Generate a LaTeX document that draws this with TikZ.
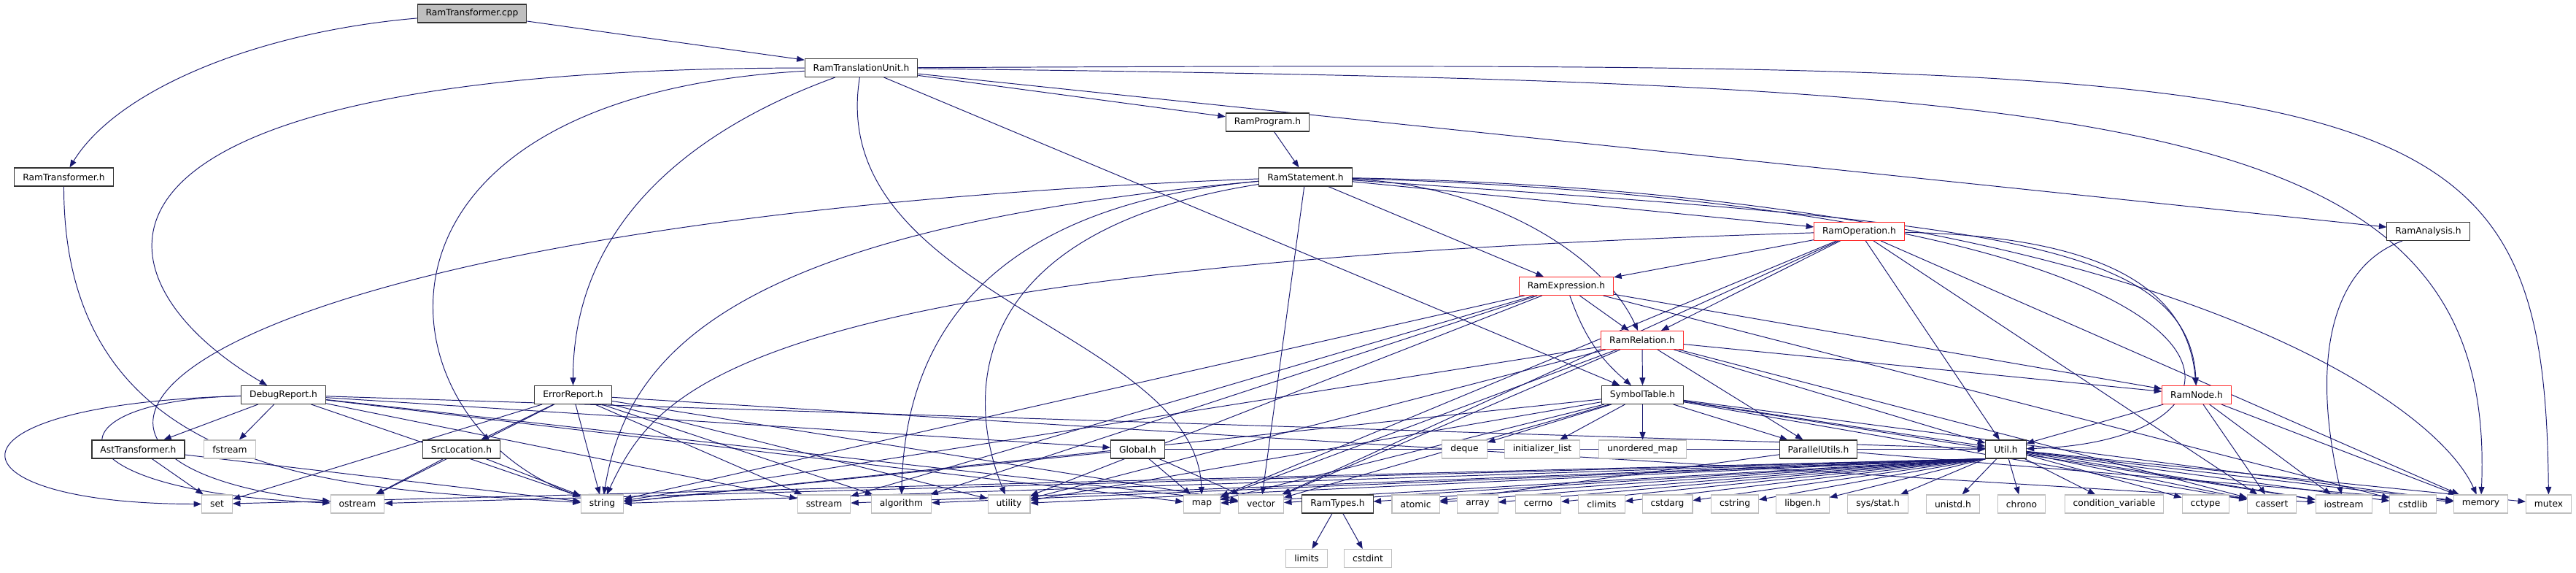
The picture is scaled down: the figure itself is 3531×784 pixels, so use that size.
\documentclass[tikz,border=0pt]{standalone}
\usepackage{fontspec}
\setmainfont{DejaVu Sans}
\usepackage{xcolor}
\usetikzlibrary{arrows.meta,backgrounds}
\definecolor{edgeblue}{RGB}{25,25,112}
\definecolor{stdgray}{RGB}{191,191,191}
\definecolor{filegray}{RGB}{191,191,191}
\definecolor{boxline}{RGB}{50,50,50}
\definecolor{truncred}{RGB}{255,40,40}

\tikzset{
  hdr/.style={draw=boxline, fill=white, line width=0.6pt, minimum height=0.5cm,
    inner xsep=0.23cm, inner ysep=0pt, font=\fontsize{7}{8}\selectfont},
  stdhdr/.style={hdr, draw=stdgray},
  redhdr/.style={hdr, draw=truncred},
  srcfile/.style={hdr, fill=filegray},
  dep/.style={draw=edgeblue, line width=0.55pt, -{Triangle[length=0.21cm,width=0.16cm]}}
}

\begin{document}
\begin{tikzpicture}[x=0.02cm,y=0.02cm]
\useasboundingbox (0,0) rectangle (3531,784);

% Project headers
\node[srcfile] (cpp) at (647,765.5) {RamTransformer.cpp};
\node[hdr] (rtu) at (1180.5,691) {RamTranslationUnit.h};
\node[hdr] (prog) at (1737.5,616.5) {RamProgram.h};
\node[hdr] (rth) at (87.5,541.5) {RamTransformer.h};
\node[hdr] (stmt) at (1789.5,541.5) {RamStatement.h};
\node[redhdr] (op) at (2548.5,467) {RamOperation.h};
\node[hdr] (ana) at (3328.5,467) {RamAnalysis.h};
\node[redhdr] (expr) at (2147,392) {RamExpression.h};
\node[redhdr] (rel) at (2251,318) {RamRelation.h};
\node[hdr] (dbg) at (388.5,243) {DebugReport.h};
\node[hdr] (err) at (785.5,243) {ErrorReport.h};
\node[hdr] (sym) at (2251.5,243) {SymbolTable.h};
\node[redhdr] (node) at (3011,243) {RamNode.h};
\node[hdr] (ast) at (189.5,168.5) {AstTransformer.h};
\node[stdhdr] (fstream) at (315,168.5) {fstream};
\node[hdr] (src) at (632.5,168.5) {SrcLocation.h};
\node[hdr] (glob) at (1559.5,168.5) {Global.h};
\node[stdhdr] (deque) at (2007.5,168.5) {deque};
\node[stdhdr] (initlist) at (2114,168.5) {initializer\_list};
\node[stdhdr] (unomap) at (2251.5,168.5) {unordered\_map};
\node[hdr] (par) at (2492.5,168.5) {ParallelUtils.h};
\node[hdr] (util) at (2749.5,168.5) {Util.h};

% Standard headers
\node[stdhdr] (set) at (297.5,93.5) {set};
\node[stdhdr] (ostream) at (490,93.5) {ostream};
\node[stdhdr] (string) at (825.5,93.5) {string};
\node[stdhdr] (sstream) at (1129.5,93.5) {sstream};
\node[stdhdr] (algorithm) at (1235.5,93.5) {algorithm};
\node[stdhdr] (utility) at (1383,93.5) {utility};
\node[stdhdr] (map) at (1647.5,93.5) {map};
\node[stdhdr] (vector) at (1728.5,93.5) {vector};
\node[hdr] (ramtypes) at (1833.5,93.5) {RamTypes.h};
\node[stdhdr] (atomic) at (1940.5,93.5) {atomic};
\node[stdhdr] (array) at (2025.5,93.5) {array};
\node[stdhdr] (cerrno) at (2108.5,93.5) {cerrno};
\node[stdhdr] (climits) at (2195.5,93.5) {climits};
\node[stdhdr] (cstdarg) at (2285.5,93.5) {cstdarg};
\node[stdhdr] (cstring) at (2378,93.5) {cstring};
\node[stdhdr] (libgen) at (2471,93.5) {libgen.h};
\node[stdhdr] (sysstat) at (2574,93.5) {sys/stat.h};
\node[stdhdr] (unistd) at (2677,93.5) {unistd.h};
\node[stdhdr] (chrono) at (2771,93.5) {chrono};
\node[stdhdr] (condvar) at (2898,93.5) {condition\_variable};
\node[stdhdr] (cctype) at (3023,93.5) {cctype};
\node[stdhdr] (cassert) at (3114,93.5) {cassert};
\node[stdhdr] (iostream) at (3212.5,93.5) {iostream};
\node[stdhdr] (cstdlib) at (3307.5,93.5) {cstdlib};
\node[stdhdr] (memory) at (3400.5,93.5) {memory};
\node[stdhdr] (mutex) at (3493.5,93.5) {mutex};
\node[stdhdr] (limits) at (1791,19) {limits};
\node[stdhdr] (cstdint) at (1875,19) {cstdint};

\begin{scope}[on background layer]
  % Curved includes
  \draw[dep] (cpp) .. controls (350,740) and (160,660) .. (rth);
  \draw[dep] (rtu) .. controls (40,690) and (120,400) .. (dbg);
  \draw[dep] (rtu) .. controls (450,650) and (520,200) .. (string);
  \draw[dep] (rtu) to[out=200,in=90] (err);
  \draw[dep] (rtu) .. controls (1130,380) and (1640,330) .. (map);
  \draw[dep] (rtu) .. controls (2900,670) and (3424,640) .. (memory);
  \draw[dep] (rtu) .. controls (3300,700) and (3487,700) .. (mutex);
  \draw[dep] (rth) .. controls (87,110) and (500,115) .. (string);
  \draw[dep] (stmt) .. controls (200,480) and (-60,150) .. (ostream);
  \draw[dep] (stmt) .. controls (1000,470) and (860,300) .. (string);
  \draw[dep] (stmt) .. controls (1330,500) and (1240,300) .. (algorithm);
  \draw[dep] (stmt) .. controls (1330,470) and (1320,250) .. (utility);
  \draw[dep] (stmt) .. controls (2050,530) and (2200,430) .. (rel);
  \draw[dep] (stmt) .. controls (2700,480) and (3000,460) .. (node);
  \draw[dep] (stmt) .. controls (3150,500) and (3150,180) .. (util);
  \draw[dep] (stmt) .. controls (2900,520) and (3330,250) .. (memory);
  \draw[dep] (op) .. controls (2900,460) and (3000,380) .. (node);
  \draw[dep] (op) .. controls (1000,420) and (900,250) .. (string);
  \draw[dep] (ana) .. controls (3200,420) and (3165,300) .. (iostream);
  \draw[dep] (expr) to[bend right=15] (sym);
  \draw[dep] (dbg) .. controls (-100,230) and (-80,93.5) .. (set);
  \draw[dep] (dbg) .. controls (60,235) and (60,110) .. (ostream);

  % Straight includes
  \foreach \a/\b in {cpp/rtu, rtu/prog, rtu/ana, rtu/sym, prog/stmt, stmt/op, stmt/expr, stmt/vector,
      op/expr, op/rel, op/util, op/cassert, op/memory, op/map, op/vector,
      expr/rel, expr/node, expr/string, expr/sstream, expr/algorithm, expr/utility, expr/cstdlib,
      rel/sym, rel/par, rel/node, rel/util, rel/string, rel/utility, rel/map, rel/vector, rel/cassert,
      dbg/ast, dbg/fstream, dbg/glob, dbg/string, dbg/sstream, dbg/map, dbg/vector, dbg/util,
      err/src, err/set, err/ostream, err/string, err/sstream, err/algorithm, err/utility, err/vector, err/iostream,
      src/ostream, src/string, ast/set, ast/string,
      glob/string, glob/map, glob/vector, glob/util,
      sym/deque, sym/initlist, sym/unomap, sym/par, sym/util, sym/string, sym/vector, sym/map,
      sym/cassert, sym/iostream, sym/memory, sym/utility,
      par/atomic, par/memory,
      node/util, node/cassert, node/iostream, node/memory,
      ramtypes/limits, ramtypes/cstdint,
      util/unistd, util/chrono, util/condvar, util/cctype, util/cassert, util/iostream,
      util/cstdlib, util/memory, util/mutex}
    \draw[dep] (\a) -- (\b);

  % Util.h to the headers on its left
  \foreach \b in {set, ostream, string, sstream, algorithm, utility, map, vector, ramtypes,
      atomic, array, cerrno, climits, cstdarg, cstring, libgen, sysstat}
    \draw[dep] (util.south west) -- (\b);
\end{scope}
\end{tikzpicture}
\end{document}
